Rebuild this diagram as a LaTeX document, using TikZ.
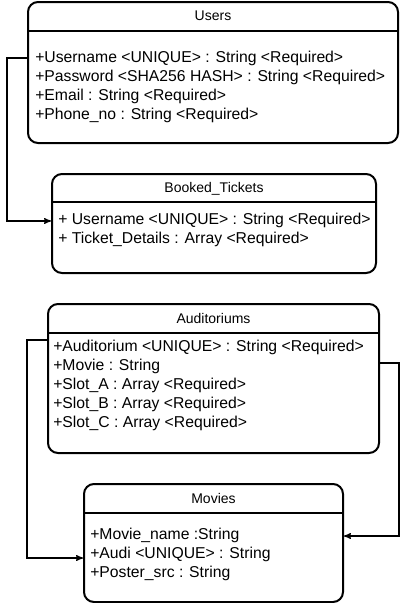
\documentclass[tikz,border=0pt]{standalone}
\usepackage{fontspec}
\setmainfont{Liberation Sans}
\usetikzlibrary{arrows}
\tikzset{%
  classbox/.style={
    draw,
    line width=1.5pt,
    rounded corners=7.5pt,
    anchor=north west,
    inner sep=0pt},
  classtitle/.style={
    anchor=base,
    inner sep=0pt,
    font=\fontsize{10.5}{12}\selectfont},
  classattr/.style={
    anchor=base west,  % base is the last line
    align=left,
    inner sep=0pt,
    font=\fontsize{11.8}{14.25}\selectfont},
  headline/.style={
    line width=1.5pt},  % line under a class name
  link/.style={
    draw,
    ->,
    >=stealth',
    line width=0.9pt}
}

\begin{document}
\begin{tikzpicture}[x=0.75pt, y=-0.75pt]
    \useasboundingbox (0,0) rectangle (406,603);

    \node[classbox, minimum width=277.5pt, minimum height=105.75pt] (users) at (27,1) {};
    \node[classbox, minimum width=243pt, minimum height=74.25pt] (booked) at (51,173) {};
    \node[classbox, minimum width=248.25pt, minimum height=111.75pt] (audis) at (47,303) {};
    \node[classbox, minimum width=194.25pt, minimum height=88.5pt] (movies) at (83,483) {};

    \node[classtitle] (users title) at ([yshift=-15pt]users.north) {Users};
    \node[classtitle] (booked title) at ([yshift=-14.6pt]booked.north) {Booked\_Tickets};
    \node[classtitle] (audis title) at ([yshift=-15pt]audis.north) {Auditoriums};
    \node[classtitle] (movies title) at ([yshift=-15pt]movies.north) {Movies};

    \draw[headline] ([yshift=-22.5pt]users.north west) -- ([yshift=-22.5pt]users.north east);
    \draw[headline] ([yshift=-21.75pt]booked.north west) -- ([yshift=-21.75pt]booked.north east);
    \draw[headline] ([yshift=-22.5pt]audis.north west) -- ([yshift=-22.5pt]audis.north east);
    \draw[headline] ([yshift=-22.5pt]movies.north west) -- ([yshift=-22.5pt]movies.north east);

    \node[classattr] (users attr) at ([xshift=6pt, yshift=-88.5pt]users.north west) {%
      +Username <UNIQUE> : String <Required>\\
      +Password <SHA256 HASH> : String <Required>\\
      +Email : String <Required>\\
      +Phone\_no : String <Required>};
    \node[classattr] (booked attr) at ([xshift=5.25pt, yshift=-52.5pt]booked.north west) {%
      + Username <UNIQUE> : String <Required>\\
      + Ticket\_Details : Array <Required>};
    \node[classattr] (audis attr) at ([xshift=4.5pt, yshift=-93pt]audis.north west) {%
      +Auditorium <UNIQUE> : String <Required>\\
      +Movie : String\\
      +Slot\_A : Array <Required>\\
      +Slot\_B : Array <Required>\\
      +Slot\_C : Array <Required>};
    \node[classattr] (movies attr) at ([xshift=5.25pt, yshift=-70.5pt]movies.north west) {%
      +Movie\_name :String\\
      +Audi <UNIQUE> : String\\
      +Poster\_src : String};

    \path[link]
      ([yshift=-42.75pt]users.north west) -- ++(-20,0) |- ([yshift=1.9pt]booked.west);
    \path[link]
      ([yshift=-27.75pt]audis.north west) -- ++(-20,0) |- ([yshift=-11.25pt]movies.west);
    \path[link]
      ([yshift=-45pt]audis.north east) -- ++(19,0) |- ([yshift=5.25pt]movies.east);

\end{tikzpicture}
\end{document}
